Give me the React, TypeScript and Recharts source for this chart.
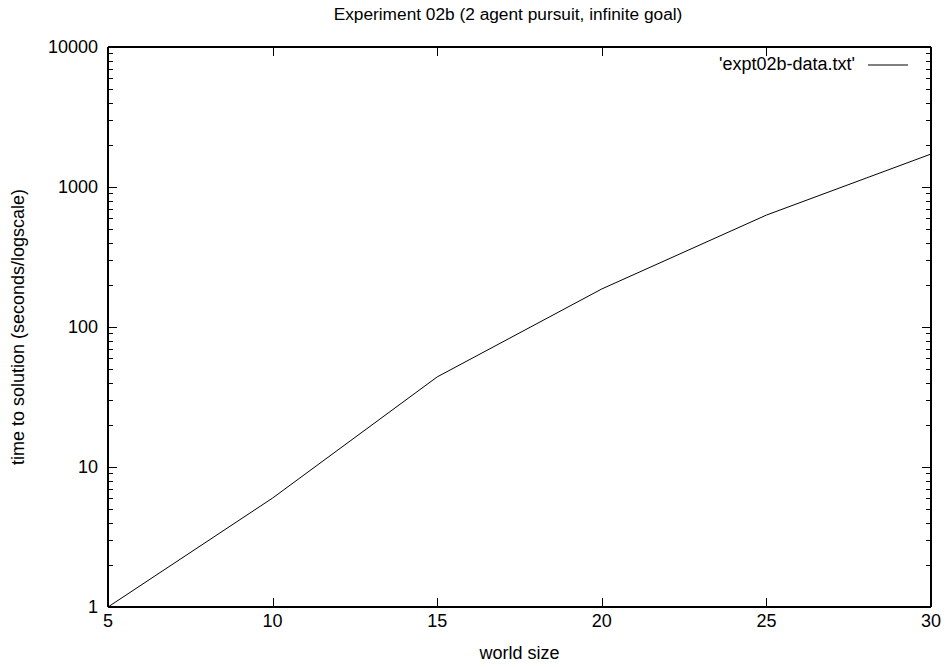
import React from 'react';
import { LineChart, Line, XAxis, YAxis, ReferenceLine } from 'recharts';

const worldSizes = [5, 10, 15, 20, 25, 30];
const timeToSolution = [1, 6, 44, 187, 630, 1720];
const xTicks = [5, 10, 15, 20, 25, 30];
const yMajorTicks = [1, 10, 100, 1000, 10000];
const yMinorTicks = [
  2, 3, 4, 5, 6, 7, 8, 9,
  20, 30, 40, 50, 60, 70, 80, 90,
  200, 300, 400, 500, 600, 700, 800, 900,
  2000, 3000, 4000, 5000, 6000, 7000, 8000, 9000,
];
const xDomain = [5, 30];
const yDomain = [1, 10000];
const seriesName = "'expt02b-data.txt'";
const titleText = 'Experiment 02b (2 agent pursuit, infinite goal)';
const xLabelText = 'world size';
const yLabelText = 'time to solution (seconds/logscale)';

const data = worldSizes.map((x, i) => ({ x, t: timeToSolution[i] }));

const FONT = '"Liberation Sans", Arial, Helvetica, sans-serif';
const FS = 18;

const W = 948;
const H = 667;
const M = { top: 47, right: 17, bottom: 30, left: 48 };
const YW = 60;
const XH = 30;
const PLOT_LEFT = M.left + YW;
const PLOT_RIGHT = W - M.right;
const PLOT_TOP = M.top;
const PLOT_BOTTOM = H - M.bottom - XH;
const MAJOR_LEN = 9;
const MINOR_LEN = 5;

// tick-mark overlay positions (same linear / log mapping as the chart axes)
const tickX = (v: number) =>
  PLOT_LEFT + ((v - xDomain[0]) / (xDomain[1] - xDomain[0])) * (PLOT_RIGHT - PLOT_LEFT);
const tickY = (v: number) =>
  PLOT_BOTTOM -
  (Math.log10(v / yDomain[0]) / Math.log10(yDomain[1] / yDomain[0])) * (PLOT_BOTTOM - PLOT_TOP);

const XTick = (props: any) => {
  const { x, payload } = props;
  return (
    <text
      x={x}
      y={PLOT_BOTTOM + 14}
      textAnchor="middle"
      dominantBaseline="central"
      fontSize={FS}
      fontFamily={FONT}
      fill="#000"
    >
      {payload.value}
    </text>
  );
};

const YTick = (props: any) => {
  const { y, payload } = props;
  return (
    <text
      x={PLOT_LEFT - 10}
      y={y}
      textAnchor="end"
      dominantBaseline="central"
      fontSize={FS}
      fontFamily={FONT}
      fill="#000"
    >
      {payload.value}
    </text>
  );
};

const TickOverlay = () => {
  const lines: any[] = [];
  const addY = (v: number, len: number, k: string) => {
    const y = Math.round(tickY(v)) + 0.5;
    lines.push(<line key={`l${k}`} x1={PLOT_LEFT} x2={PLOT_LEFT + len} y1={y} y2={y} />);
    lines.push(<line key={`r${k}`} x1={PLOT_RIGHT - len} x2={PLOT_RIGHT} y1={y} y2={y} />);
  };
  yMajorTicks.forEach((v) => addY(v, MAJOR_LEN, `M${v}`));
  yMinorTicks.forEach((v) => addY(v, MINOR_LEN, `m${v}`));
  xTicks.forEach((v) => {
    const x = Math.round(tickX(v)) + 0.5;
    lines.push(<line key={`b${v}`} x1={x} x2={x} y1={PLOT_BOTTOM} y2={PLOT_BOTTOM - MAJOR_LEN} />);
    lines.push(<line key={`t${v}`} x1={x} x2={x} y1={PLOT_TOP} y2={PLOT_TOP + MAJOR_LEN} />);
  });
  return (
    <svg
      width={W}
      height={H}
      style={{ position: 'absolute', left: 0, top: 0, pointerEvents: 'none', zIndex: 3 }}
    >
      <g stroke="#000" strokeWidth={1} shapeRendering="crispEdges">
        {lines}
      </g>
    </svg>
  );
};

export default function App() {
  return (
    <div style={{ position: 'absolute', left: 0, top: 0, width: W, height: H, background: '#fff', fontFamily: FONT }}>
      <div
        style={{
          position: 'absolute',
          top: 4,
          left: 0,
          width: 1016,
          textAlign: 'center',
          fontSize: 17.3,
          color: '#000',
          zIndex: 2,
          whiteSpace: 'nowrap',
        }}
      >
        {titleText}
      </div>
      <div
        style={{
          position: 'absolute',
          top: 54,
          right: 40,
          display: 'flex',
          alignItems: 'center',
          fontSize: FS,
          color: '#000',
          zIndex: 2,
          whiteSpace: 'nowrap',
        }}
      >
        <span>{seriesName}</span>
        <svg width={53} height={10}>
          <line x1={13} y1={5} x2={53} y2={5} stroke="#000" strokeWidth={1} />
        </svg>
      </div>
      <LineChart width={W} height={H} data={data} margin={M}>
        <XAxis
          dataKey="x"
          type="number"
          domain={xDomain}
          ticks={xTicks}
          interval={0}
          allowDataOverflow
          height={XH}
          axisLine={false}
          tickLine={false}
          tickSize={0}
          tick={<XTick />}
          label={({ viewBox }: any) => (
            <text
              x={viewBox.x + viewBox.width / 2}
              y={PLOT_BOTTOM + 46}
              textAnchor="middle"
              dominantBaseline="central"
              fontSize={18}
              fontFamily={FONT}
              fill="#000"
            >
              {xLabelText}
            </text>
          )}
        />
        <YAxis
          scale="log"
          type="number"
          domain={yDomain}
          ticks={yMajorTicks}
          interval={0}
          allowDataOverflow
          width={YW}
          axisLine={false}
          tickLine={false}
          tickSize={0}
          tick={<YTick />}
          label={({ viewBox }: any) => {
            const cx = 18;
            const cy = viewBox.y + viewBox.height / 2;
            return (
              <text
                x={cx}
                y={cy}
                transform={`rotate(-90 ${cx} ${cy})`}
                textAnchor="middle"
                dominantBaseline="central"
                fontSize={18}
                fontFamily={FONT}
                fill="#000"
              >
                {yLabelText}
              </text>
            );
          }}
        />
        {xDomain.map((v) => (
          <ReferenceLine key={`fx${v}`} x={v} ifOverflow="visible" stroke="#000" strokeWidth={2} />
        ))}
        {yDomain.map((v) => (
          <ReferenceLine key={`fy${v}`} y={v} ifOverflow="visible" stroke="#000" strokeWidth={2} />
        ))}
        <Line
          type="linear"
          dataKey="t"
          name={seriesName}
          stroke="#000"
          strokeWidth={1}
          dot={false}
          isAnimationActive={false}
        />
      </LineChart>
      <TickOverlay />
    </div>
  );
}
